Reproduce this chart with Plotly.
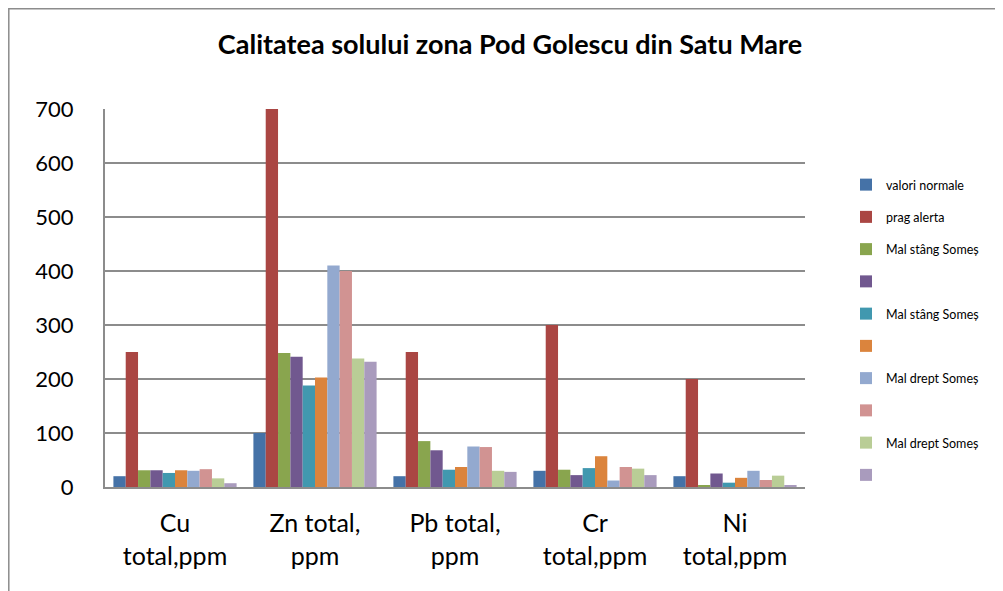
import plotly.graph_objects as go

categories = ["Cu<br>total,ppm", "Zn total,<br>ppm", "Pb total,<br>ppm", "Cr<br>total,ppm", "Ni<br>total,ppm"]

series_names = ["valori normale", "prag alerta", "Mal stâng Someș", " ", "Mal stâng Someș",
                "  ", "Mal drept Someș", "   ", "Mal drept Someș", "    "]

valori_normale = [20, 100, 20, 30, 20]
prag_alerta = [250, 700, 250, 300, 200]
mal_stang_1 = [31, 248, 85, 32, 3]
serie_4 = [31, 241, 68, 22, 25]
mal_stang_2 = [26, 188, 32, 35, 8]
serie_6 = [31, 203, 37, 57, 17]
mal_drept_1 = [30, 410, 75, 12, 30]
serie_8 = [33, 400, 74, 37, 13]
mal_drept_2 = [16, 238, 30, 34, 21]
serie_10 = [7, 232, 28, 22, 3]

series_values = [valori_normale, prag_alerta, mal_stang_1, serie_4, mal_stang_2,
                 serie_6, mal_drept_1, serie_8, mal_drept_2, serie_10]

colors = ["#4572A7", "#AA4643", "#89A54E", "#71588F", "#4198AF",
          "#DB843D", "#93A9CF", "#D19392", "#B9CD96", "#A99BBD"]

y_ticks = [0, 100, 200, 300, 400, 500, 600, 700]

fig = go.Figure()
for i, (name, vals, col) in enumerate(zip(series_names, series_values, colors)):
    fig.add_trace(go.Bar(
        x=categories, y=vals, name=name, marker_color=col,
        marker_line_width=0, legendgroup=f"g{i}",
    ))

# figure sits 8px inside the page (default body margin)
W, H = 995, 583
L, R, T, B = 97, 198, 101, 104
pw, ph = W - L - R, H - T - B

def px_x(p):
    return (p - L) / pw

def px_y(p):
    return (H - B - p) / ph

FONT = "Lato, Liberation Sans, sans-serif"

fig.update_layout(
    width=W, height=H,
    margin=dict(l=L, r=R, t=T, b=B),
    paper_bgcolor="white", plot_bgcolor="white",
    font=dict(family=FONT, color="#000000"),
    barmode="group", bargap=0.12, bargroupgap=0,
    title=dict(text="<b>Calitatea solului zona Pod Golescu din Satu Mare</b>",
               font=dict(size=27, family=FONT),
               x=502 / W, xref="container", xanchor="center",
               y=1 - 37 / H, yref="container", yanchor="middle"),
    legend=dict(x=px_x(838), y=px_y(162), xanchor="left", yanchor="top",
                font=dict(size=12.5), traceorder="grouped", tracegroupgap=13,
                bgcolor="rgba(0,0,0,0)"),
    xaxis=dict(showline=True, linecolor="#8C8C8C", linewidth=2,
               tickfont=dict(size=25), ticks="", showgrid=False,
               ticklabelstandoff=13),
    yaxis=dict(range=[0, 700], tickvals=y_ticks, showgrid=True,
               gridcolor="#8C8C8C", gridwidth=2, showline=True,
               linecolor="#8C8C8C", linewidth=2, zeroline=False,
               tickfont=dict(size=22), ticks="", ticklabelstandoff=25),
    shapes=[dict(type="rect", xref="paper", yref="paper",
                 x0=px_x(0.8), y0=px_y(0.8), x1=px_x(1020), y1=px_y(610),
                 line=dict(color="#8C8C8C", width=1.5), layer="below")],
)

fig.write_html("out.html")
